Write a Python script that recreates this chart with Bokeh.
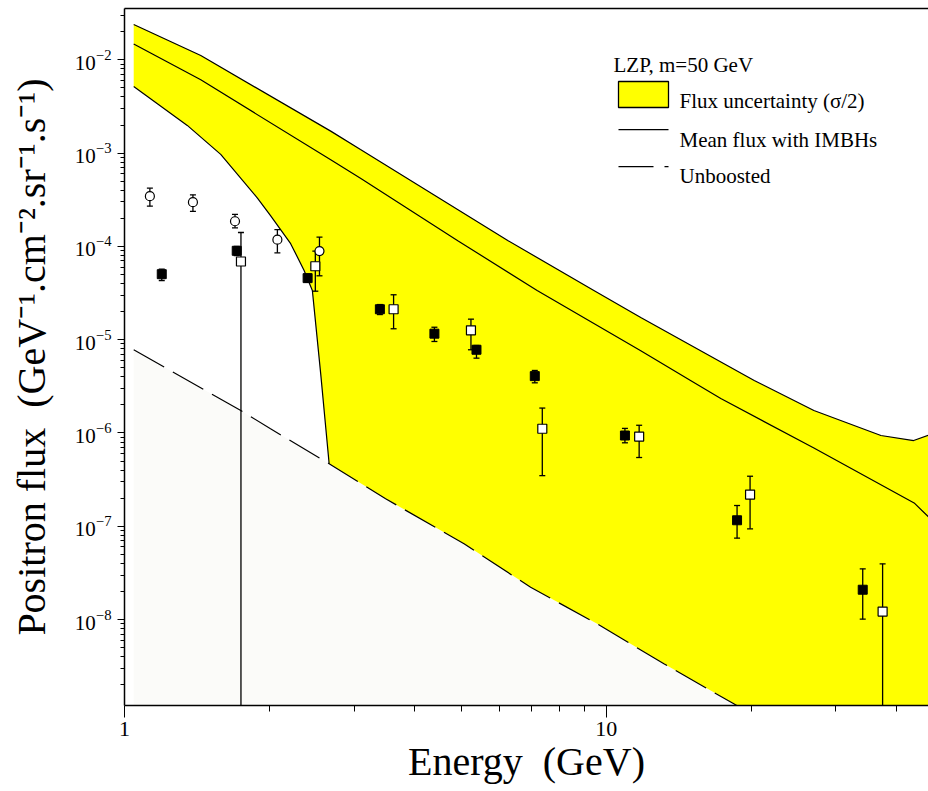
import math
from bokeh.plotting import figure
from bokeh.models import FixedTicker, LogAxis, Label, BoxAnnotation
from bokeh.embed import file_html
from bokeh.resources import INLINE

FONT = "Liberation Serif"

# ---------------- data ----------------
upper_e = [1.045, 1.44, 2.68, 3.09, 6.26, 9.43, 11.8, 20.3, 27.0, 37.2, 43.5, 47.0]
upper_f = [2.39e-2, 1.11e-2, 1.72e-3, 1.09e-3, 1.15e-4, 3.37e-5, 1.73e-5, 3.65e-6, 1.74e-6, 9.4e-7, 8.3e-7, 9.6e-7]

mean_e = [1.045, 1.44, 2.68, 3.09, 4.92, 7.19, 11.8, 14.97, 17.3, 27.0, 43.6, 47.0]
mean_f = [1.48e-2, 6.1e-3, 8.48e-4, 5.38e-4, 1.15e-4, 3.37e-5, 7.6e-6, 3.65e-6, 2.34e-6, 6.9e-7, 1.78e-7, 1.22e-7]

lower_e = [1.045, 1.35, 1.584, 1.888, 2.01, 2.213, 2.36, 2.455, 2.555, 2.66]
lower_f = [5.16e-3, 1.98e-3, 9.7e-4, 3.3e-4, 2.14e-4, 1.07e-4, 5.53e-5, 3.37e-5, 4.3e-6, 4.68e-7]

unb_e = [1.045, 1.74, 2.01, 2.66, 3.485, 3.686, 5.07, 6.97, 9.58, 13.18, 18.41, 30.0, 47.0]
unb_f = [7.8e-6, 1.75e-6, 1.11e-6, 4.68e-7, 1.97e-7, 1.67e-7, 6.49e-8, 2.22e-8, 9.0e-9, 3.36e-9, 1.25e-9, 2.9e-10, 7.5e-11]

circ_e = [1.129, 1.387, 1.696, 2.077, 2.54]
circ_f = [3.45e-4, 2.98e-4, 1.86e-4, 1.18e-4, 8.9e-5]
circ_hi = [4.21e-4, 3.57e-4, 2.20e-4, 1.51e-4, 1.26e-4]
circ_lo = [2.70e-4, 2.37e-4, 1.58e-4, 8.54e-5, 4.84e-5]

fsq_e = [1.195, 1.71, 2.40, 3.39, 4.40, 5.38, 7.11, 10.94, 18.7, 34.1]
fsq_f = [5.04e-5, 8.97e-5, 4.57e-5, 2.12e-5, 1.16e-5, 7.80e-6, 4.07e-6, 9.4e-7, 1.16e-7, 2.09e-8]
fsq_hi = [5.70e-5, 9.97e-5, 5.04e-5, 2.38e-5, 1.36e-5, 8.67e-6, 4.68e-6, 1.12e-6, 1.67e-7, 3.50e-8]
fsq_lo = [4.31e-5, 7.98e-5, 4.13e-5, 1.86e-5, 9.57e-6, 6.34e-6, 3.45e-6, 7.85e-7, 7.45e-8, 1.01e-8]

osq_e = [1.745, 2.49, 3.62, 5.24, 7.37, 11.71, 19.9, 37.5]
osq_f = [6.89e-5, 6.13e-5, 2.12e-5, 1.26e-5, 1.11e-6, 9.16e-7, 2.19e-7, 1.22e-8]
osq_hi = [1.41e-4, 8.89e-5, 3.03e-5, 1.66e-5, 1.85e-6, 1.21e-6, 3.44e-7, 3.96e-8]
osq_lo = [1e-12, 3.31e-5, 1.31e-5, 7.80e-6, 3.49e-7, 5.46e-7, 9.4e-8, 1e-12]

x_major = [1, 10]
x_labels = ["1", "10"]
x_minor = [2, 3, 4, 5, 6, 7, 8, 9, 20, 30, 40]
y_major = [1e-8, 1e-7, 1e-6, 1e-5, 1e-4, 1e-3, 1e-2]
y_minor = [k * 10.0 ** d for d in range(-9, -1) for k in range(2, 10)]

title_x = "Energy \u00a0(GeV)"
title_y = "Positron flux \u00a0(GeV\u207b\u00b9.cm\u207b\u00b2.sr\u207b\u00b9.s\u207b\u00b9)"
legend_title = "LZP, m=50 GeV"
legend_labels = ["Flux uncertainty (\u03c3/2)", "Mean flux with IMBHs", "Unboosted"]

# ---------------- figure ----------------
p = figure(width=928, height=791, x_axis_type="log", y_axis_type="log",
           x_range=(1, 46.7), y_range=(1.2e-9, 0.03547),
           output_backend="svg", toolbar_location=None,
           min_border_left=124, min_border_right=0, min_border_top=8, min_border_bottom=86)
p.grid.visible = False
p.outline_line_color = None
p.background_fill_color = "white"
p.border_fill_color = "white"

# gray area below the unboosted flux
floor = 1e-12
p.varea(x=unb_e, y1=[floor] * len(unb_e), y2=unb_f, fill_color="#fbfbf9")

# yellow uncertainty band: upper curve, then back along max(lower, unboosted)
join = lower_e[-1]
tail_e = [e for e in unb_e if e >= join]
tail_f = [f for e, f in zip(unb_e, unb_f) if e >= join]
band_x = upper_e + tail_e[::-1] + lower_e[::-1]
band_y = upper_f + tail_f[::-1] + lower_f[::-1]
p.patch(band_x, band_y, fill_color="#ffff00", line_color=None)

p.line(upper_e, upper_f, line_color="black", line_width=1.2)
p.line(mean_e, mean_f, line_color="black", line_width=1.2)
p.line(lower_e, lower_f, line_color="black", line_width=1.2)
p.line(unb_e, unb_f, line_color="black", line_width=1.2, line_dash="35 10")

# error bars
for es, lo, hi in [(circ_e, circ_lo, circ_hi), (fsq_e, fsq_lo, fsq_hi), (osq_e, osq_lo, osq_hi)]:
    p.segment(x0=es, y0=lo, x1=es, y1=hi, line_color="black", line_width=1.3)
    p.scatter(x=es + es, y=lo + hi, marker="dash", size=6, line_color="black", line_width=1.3)

p.scatter(circ_e, circ_f, marker="circle", size=9, fill_color="white", line_color="black", line_width=1.2)
p.scatter(fsq_e, fsq_f, marker="square", size=9, fill_color="black", line_color="black", line_width=1)
p.scatter(osq_e, osq_f, marker="square", size=9, fill_color="white", line_color="black", line_width=1.2)

# ---------------- axes ----------------
xa = p.xaxis[0]
xa.ticker = FixedTicker(ticks=x_major, minor_ticks=x_minor)
xa.major_label_overrides = {v: s for v, s in zip(x_major, x_labels)}
xa.major_tick_out = 12
xa.major_tick_in = 0
xa.minor_tick_out = 6
xa.minor_tick_in = 0
xa.axis_line_width = 1.5
xa.major_label_text_font = FONT
xa.major_label_text_font_size = "22px"
xa.major_label_text_color = "black"
xa.major_label_standoff = 4
xa.axis_label = title_x
xa.axis_label_text_font = FONT
xa.axis_label_text_font_size = "40px"
xa.axis_label_text_font_style = "normal"
xa.axis_label_text_color = "black"
xa.axis_label_standoff = 0

ya = p.yaxis[0]
ya.ticker = FixedTicker(ticks=y_major, minor_ticks=y_minor)
ya.major_tick_out = 7
ya.major_tick_in = 0
ya.minor_tick_out = 4
ya.minor_tick_in = 0
ya.axis_line_width = 1.5
ya.major_label_text_font = FONT
ya.major_label_text_font_size = "21px"
ya.major_label_text_color = "black"
ya.major_label_standoff = 6
ya.axis_label = title_y
ya.axis_label_text_font = FONT
ya.axis_label_text_font_size = "40px"
ya.axis_label_text_font_style = "normal"
ya.axis_label_text_color = "black"
ya.axis_label_standoff = 18

top = LogAxis(ticker=FixedTicker(ticks=[]), axis_line_width=1.5,
              major_tick_out=0, minor_tick_out=0)
p.add_layout(top, "above")

# ---------------- legend (drawn by hand) ----------------
def lab(x, y, t):
    p.add_layout(Label(x=x, y=y, x_units="screen", y_units="screen", text=t,
                       text_font=FONT, text_font_size="21px", text_color="black",
                       text_baseline="alphabetic"))

lab(489, 641, legend_title)
lab(555, 605, legend_labels[0])
lab(555, 566, legend_labels[1])
lab(555, 530, legend_labels[2])

def box(l, r, b, t, fill, line=None):
    p.add_layout(BoxAnnotation(left=l, right=r, bottom=b, top=t,
                               left_units="screen", right_units="screen",
                               bottom_units="screen", top_units="screen",
                               fill_color=fill, fill_alpha=1,
                               line_color=line, line_alpha=1, line_width=1.3, level="overlay"))

box(494, 544, 598, 624, "#ffff00", "black")
box(494, 544, 575.3, 576.4, "black")
box(494, 529, 538.3, 539.4, "black")
box(540, 544, 538.3, 539.4, "black")

open("out.html", "w").write(file_html(p, INLINE))
